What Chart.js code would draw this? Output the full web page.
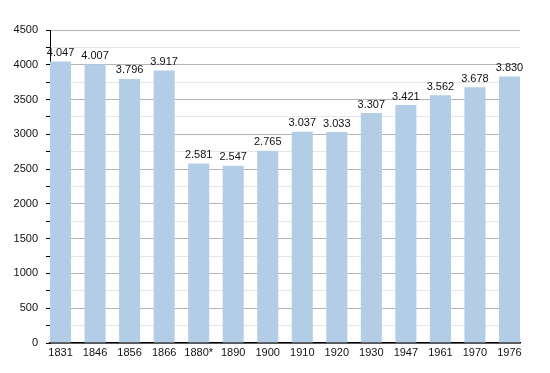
<!DOCTYPE html>
<html>
<head>
<meta charset="utf-8">
<script src="https://cdn.jsdelivr.net/npm/chart.js@4"></script>
<style>
  html, body { margin: 0; padding: 0; background: #fff; }
  #wrap { width: 550px; height: 373px; }
</style>
</head>
<body>
<div id="wrap"><canvas id="popChart" width="550" height="373"></canvas></div>
<script>
// data
const years = ['1831', '1846', '1856', '1866', '1880*', '1890', '1900', '1910', '1920', '1930', '1947', '1961', '1970', '1976'];
const population = [4047, 4007, 3796, 3917, 2581, 2547, 2765, 3037, 3033, 3307, 3421, 3562, 3678, 3830];
const yTicks = [0, 500, 1000, 1500, 2000, 2500, 3000, 3500, 4000, 4500];

const fmt = v => v >= 1000 ? Math.floor(v / 1000) + '.' + String(v % 1000).padStart(3, '0') : String(v);
const FONT = '"Liberation Sans", Arial, sans-serif';

// value labels over bars
const barLabels = {
    id: 'barLabels',
    afterDatasetsDraw(chart) {
        const ctx = chart.ctx;
        const meta = chart.getDatasetMeta(0);
        ctx.save();
        ctx.font = '11px ' + FONT;
        ctx.fillStyle = '#111';
        ctx.textAlign = 'center';
        ctx.textBaseline = 'bottom';
        meta.data.forEach((bar, i) => {
            ctx.fillText(fmt(population[i]), bar.x, bar.y - 3);
        });
        ctx.restore();
    }
};

new Chart(document.getElementById('popChart'), {
    type: 'bar',
    data: {
        datasets: [{
            data: population.map((v, i) => ({ x: i, y: v })),
            backgroundColor: '#b3cde6',
            categoryPercentage: 0.61,
            barPercentage: 1.0
        }]
    },
    options: {
        responsive: false,
        animation: false,
        layout: { padding: { top: 30, right: 30, left: 0, bottom: 0 } },
        plugins: { legend: { display: false }, tooltip: { enabled: false } },
        scales: {
            x: {
                type: 'linear',
                min: -0.305,
                max: years.length - 1 + 0.305,
                offset: false,
                afterBuildTicks: axis => {
                    axis.ticks = years.map((y, i) => ({ value: i }));
                },
                afterFit: axis => { axis.height = 30; },
                grid: { display: false, drawTicks: false },
                border: { color: '#000', width: 1.5 },
                ticks: {
                    color: '#111',
                    padding: 3,
                    maxRotation: 0,
                    autoSkip: false,
                    font: { family: FONT, size: 11 },
                    callback: v => years[v]
                }
            },
            y: {
                min: 0,
                max: 4500,
                afterBuildTicks: axis => {
                    const t = [];
                    for (let v = 0; v <= 4500; v += 250) t.push({ value: v });
                    axis.ticks = t;
                },
                afterFit: axis => { axis.width = 50; },
                grid: {
                    color: c => (c.tick && c.tick.value % 500 === 0) ? '#b4b4b4' : '#e6e6e6',
                    tickColor: '#000',
                    tickLength: 4
                },
                border: { color: '#000', width: 1 },
                ticks: {
                    color: '#111',
                    padding: 8,
                    font: { family: FONT, size: 11 },
                    callback: v => yTicks.includes(v) ? String(v) : ''
                }
            }
        }
    },
    plugins: [barLabels]
});
</script>
</body>
</html>
